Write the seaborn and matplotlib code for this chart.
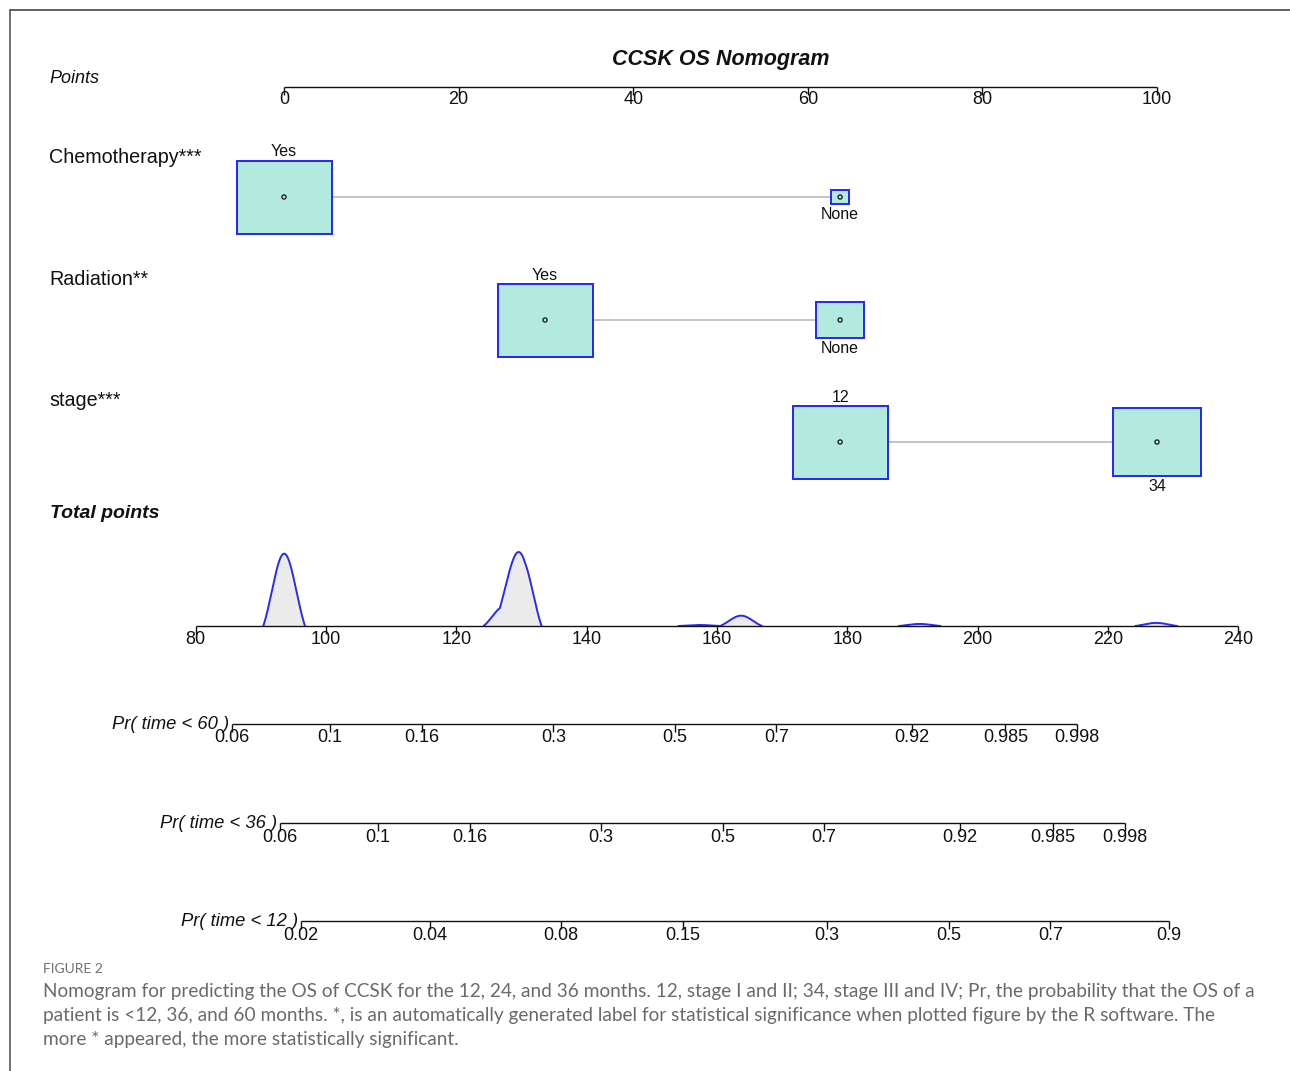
import numpy as np
import pandas as pd
import matplotlib
matplotlib.use("Agg")
import matplotlib.pyplot as plt
from matplotlib.patches import Rectangle
from matplotlib.lines import Line2D
import seaborn as sns

# ---------------- model data ----------------
variable_names = ["Chemotherapy***", "Radiation**", "stage***"]
chemo_levels = ["Yes", "None"]
chemo_points = [0.0, 63.7]
radiation_levels = ["Yes", "None"]
radiation_points = [29.9, 63.7]
stage_levels = ["12", "34"]
stage_points = [63.7, 100.0]

# number of patients in each covariate pattern
pattern_chemo = ["Yes", "Yes", "Yes", "Yes", "None", "None", "None", "None"]
pattern_radiation = ["Yes", "Yes", "None", "None", "Yes", "Yes", "None", "None"]
pattern_stage = ["12", "34", "12", "34", "12", "34", "12", "34"]
pattern_counts = [70, 66, 19, 10, 1, 0, 2, 3]

points_ticks = [0, 20, 40, 60, 80, 100]
total_ticks = [80, 100, 120, 140, 160, 180, 200, 220, 240]

horizons = [60, 36, 12]
prob_ticks_60 = [0.06, 0.1, 0.16, 0.3, 0.5, 0.7, 0.92, 0.985, 0.998]
prob_ticks_36 = [0.06, 0.1, 0.16, 0.3, 0.5, 0.7, 0.92, 0.985, 0.998]
prob_ticks_12 = [0.02, 0.04, 0.08, 0.15, 0.3, 0.5, 0.7, 0.9]
cloglog_per_point = 0.03556           # linear predictor change per total point
total_at_half = [153.6, 160.9, 195.6]  # total points where Pr(time < t) = 0.5

caption_head = "FIGURE 2"
caption_lines = [
    "Nomogram for predicting the OS of CCSK for the 12, 24, and 36 months. 12, stage I and II; 34, stage III and IV; Pr, the probability that the OS of a",
    "patient is <12, 36, and 60 months. *, is an automatically generated label for statistical significance when plotted figure by the R software. The",
    "more * appeared, the more statistically significant.",
]

# ---------------- style ----------------
sns.set_theme(style="white")
plt.rcParams["font.family"] = ["Liberation Sans", "DejaVu Sans"]

W, H = 1290, 1071
fig = plt.figure(figsize=(W / 100, H / 100), dpi=100)
fig.patch.set_facecolor("white")

BOX_FILL = "#b3eadf"
BOX_EDGE = "#2424ff"
LINK = "#b4b4b4"
AXIS = "#111111"
DENS_LINE = "#2a2af0"
DENS_FILL = "#ebebeb"

# pixel layout of the two horizontal scales
P0_PX, P100_PX = 284.0, 1157.0
T80_PX, T240_PX = 195.5, 1238.4
p_scale = (P100_PX - P0_PX) / 100.0
t_scale = (T240_PX - T80_PX) / 160.0

ax_top = fig.add_axes([0, 0, 1, 1])
ax_top.set_xlim(-P0_PX / p_scale, (W - P0_PX) / p_scale)
ax_top.set_ylim(H, 0)
ax_top.axis("off")
ax_top.patch.set_alpha(0)

ax_bot = fig.add_axes([0, 0, 1, 1])
ax_bot.set_xlim(80 - T80_PX / t_scale, 80 + (W - T80_PX) / t_scale)
ax_bot.set_ylim(H, 0)
ax_bot.axis("off")
ax_bot.patch.set_alpha(0)

TICK_LEN = 8
TICK_FS = 13


def draw_scale(ax, y, ticks, labels, lo, hi, label_drop=17.5):
    ax.plot([lo, hi], [y, y], color=AXIS, lw=1.0, solid_capstyle="butt", zorder=5)
    ax.vlines(ticks, y, y + TICK_LEN, color=AXIS, lw=1.0, zorder=5)
    for t, lab in zip(ticks, labels):
        ax.text(t, y + label_drop, lab, ha="center", va="baseline",
                fontsize=TICK_FS, color="#111111", zorder=6)


# ---------------- title and points scale ----------------
fig.text(721 / W, 1 - 64.5 / H, "CCSK OS Nomogram", ha="center", va="baseline",
         fontsize=15.5, fontweight="bold", fontstyle="italic", color="#111111")
fig.text(49 / W, 1 - 83.5 / H, "Points", ha="left", va="baseline",
         fontsize=13, fontstyle="italic", color="#111111")
draw_scale(ax_top, 87, points_ticks, [str(t) for t in points_ticks],
           points_ticks[0], points_ticks[-1])

# ---------------- covariate rows ----------------
patients = pd.DataFrame({
    "chemo": pattern_chemo,
    "radiation": pattern_radiation,
    "stage": pattern_stage,
    "n": pattern_counts,
})

rows = [
    ("chemo", chemo_levels, chemo_points, 197, 163),
    ("radiation", radiation_levels, radiation_points, 320, 285),
    ("stage", stage_levels, stage_points, 442, 406),
]
BOX_W_PX, BOX_H_PX = 95.0, 73.0

dots = []
for name, (col, levels, pts, y_mid, y_lab) in zip(variable_names, rows):
    fig.text(49 / W, 1 - y_lab / H, name, ha="left", va="baseline",
             fontsize=14.2, color="#111111")
    freq = patients.groupby(col)["n"].sum().reindex(levels)
    rel = np.sqrt(freq / freq.max())
    ax_top.plot([pts[0], pts[-1]], [y_mid, y_mid], color=LINK, lw=1.1, zorder=1)
    for k, (lev, p, r) in enumerate(zip(levels, pts, rel)):
        w = BOX_W_PX * r / p_scale
        h = BOX_H_PX * r
        ax_top.add_patch(Rectangle((p - w / 2, y_mid - h / 2), w, h,
                                   facecolor=BOX_FILL, edgecolor=BOX_EDGE,
                                   lw=1.4, zorder=2))
        if k % 2 == 0:
            ty = y_mid - h / 2 - 4
        else:
            ty = y_mid + h / 2 + 15
        ax_top.text(p, ty, lev, ha="center", va="baseline", fontsize=11.5,
                    color="#111111", zorder=4)
        dots.append((p, y_mid))

dot_df = pd.DataFrame(dots, columns=["points", "row"])
sns.scatterplot(data=dot_df, x="points", y="row", ax=ax_top, marker="o", s=9,
                facecolor="none", edgecolor="#111111", linewidth=0.9, zorder=4,
                legend=False)

# ---------------- total points distribution ----------------
fig.text(50 / W, 1 - 518 / H, "Total points", ha="left", va="baseline",
         fontsize=14, fontweight="bold", fontstyle="italic", color="#111111")

lookup = {
    "chemo": dict(zip(chemo_levels, chemo_points)),
    "radiation": dict(zip(radiation_levels, radiation_points)),
    "stage": dict(zip(stage_levels, stage_points)),
}
patients["total"] = sum(patients[c].map(lookup[c]) for c in ["chemo", "radiation", "stage"])

BASE_Y = 626
DENS_H = 74
# compact Gaussian-shaped kernel that reaches zero at +/- kcut bandwidths
bw, kcut = 1.88, 1.7
floor = np.exp(-0.5 * kcut ** 2)
grid = np.linspace(80, 240, 6001)
dens = np.zeros_like(grid)
for tot, n in zip(patients["total"], patients["n"]):
    u = (grid - tot) / bw
    dens += n * np.clip(np.exp(-0.5 * u ** 2) - floor, 0.0, None)
ypix = BASE_Y - dens / dens.max() * DENS_H

pos = (dens > 0).astype(int)
starts = np.flatnonzero(np.diff(np.r_[0, pos]) == 1)
ends = np.flatnonzero(np.diff(np.r_[pos, 0]) == -1)
for s, e in zip(starts, ends):
    seg = slice(max(s - 1, 0), min(e + 1, len(grid) - 1) + 1)
    ax_bot.fill_between(grid[seg], BASE_Y, ypix[seg], color=DENS_FILL, lw=0, zorder=2)
    seg_df = pd.DataFrame({"total": grid[seg], "y": ypix[seg]})
    sns.lineplot(data=seg_df, x="total", y="y", ax=ax_bot, color=DENS_LINE, lw=1.4,
                 estimator=None, sort=False, zorder=3, legend=False)

draw_scale(ax_bot, BASE_Y, total_ticks, [str(t) for t in total_ticks],
           total_ticks[0], total_ticks[-1])


# ---------------- probability scales ----------------
def cloglog(p):
    p = np.asarray(p, dtype=float)
    return np.log(-np.log(1 - p))


prob_ticks = [prob_ticks_60, prob_ticks_36, prob_ticks_12]
line_y = [724, 823, 921]
for hz, ticks, t_half, y in zip(horizons, prob_ticks, total_at_half, line_y):
    pos_t = t_half + (cloglog(ticks) - cloglog(0.5)) / cloglog_per_point
    draw_scale(ax_bot, y, pos_t, [f"{t:g}" for t in ticks], pos_t[0], pos_t[-1],
               label_drop=18.5)
    x_start_px = T80_PX + (pos_t[0] - 80) * t_scale
    fig.text((x_start_px - 3) / W, 1 - (y + 5) / H, f"Pr( time < {hz} )",
             ha="right", va="baseline", fontsize=13.2, fontstyle="italic",
             color="#111111")

# ---------------- caption ----------------
cap_font = ["Lato", "DejaVu Sans"]
fig.text(43 / W, 1 - 973 / H, caption_head, ha="left", va="baseline",
         fontsize=10, family=cap_font, color="#707070")
cap_texts = []
for i, line in enumerate(caption_lines):
    cap_texts.append(fig.text(43 / W, 1 - (997 + 24 * i) / H, line, ha="left",
                              va="baseline", fontsize=12.5, family=cap_font,
                              color="#6a6a6a"))
fig.canvas.draw()
width_px = cap_texts[0].get_window_extent().width
fs = 12.5 * (1260 - 43) / width_px
for t in cap_texts:
    t.set_fontsize(fs)

# ---------------- frame ----------------
fig.add_artist(Line2D([9.5 / W, 9.5 / W], [1 - 10.3 / H, 0], color="#666666", lw=1.3))
fig.add_artist(Line2D([9.5 / W, 1], [1 - 10.3 / H, 1 - 10.3 / H], color="#555555", lw=1.3))

fig.savefig("out.png", dpi=100, facecolor="white")
